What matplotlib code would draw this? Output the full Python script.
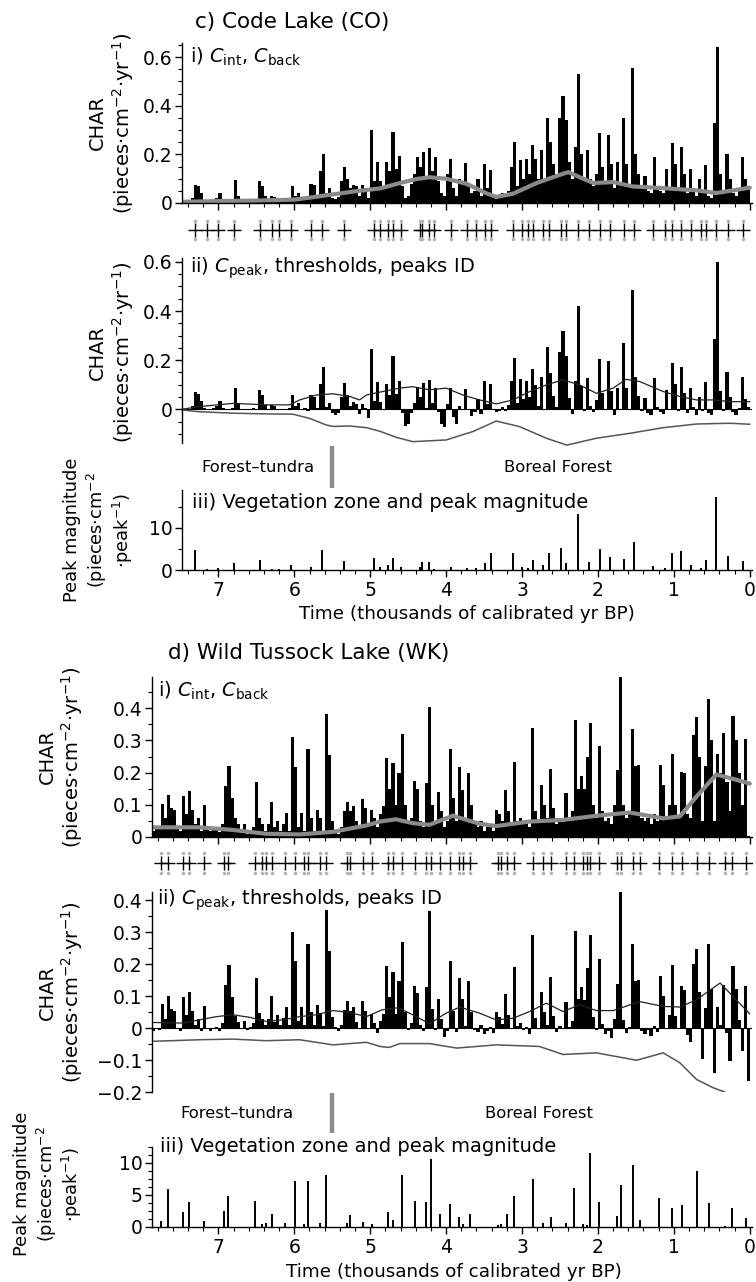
import numpy as np
import matplotlib
matplotlib.use("Agg")
import matplotlib.pyplot as plt
from matplotlib.ticker import MultipleLocator, FuncFormatter

plt.rcParams['font.family'] = 'DejaVu Sans'
plt.rcParams['font.size'] = 13.5
plt.rcParams['mathtext.fontset'] = 'dejavusans'
plt.rcParams['axes.linewidth'] = 1.0

W, H = 756, 1282

# ---------------- Code Lake (CO) ----------------
co_start, co_step = 7.46, 0.04   # bin centres, kyr BP, oldest first
co_cint = [0.004, 0.005, 0.006, 0.02, 0.075,
           0.07, 0.04, 0.012, 0.008, 0.01,
           0.012, 0.02, 0.04, 0.015, 0.008,
           0.01, 0.012, 0.095, 0.03, 0.01,
           0.008, 0.012, 0.01, 0.015, 0.012,
           0.09, 0.07, 0.03, 0.01, 0.03,
           0.025, 0.012, 0.01, 0.008, 0.015,
           0.02, 0.07, 0.03, 0.04, 0.02,
           0.025, 0.015, 0.08, 0.075, 0.03,
           0.13, 0.2, 0.04, 0.06, 0.02,
           0.015, 0.025, 0.09, 0.15, 0.1,
           0.06, 0.075, 0.07, 0.03, 0.075,
           0.06, 0.02, 0.3, 0.09, 0.17,
           0.09, 0.06, 0.17, 0.13, 0.29,
           0.14, 0.195, 0.07, 0.02, 0.03,
           0.08, 0.12, 0.19, 0.15, 0.21,
           0.11, 0.226, 0.13, 0.19, 0.09,
           0.04, 0.03, 0.12, 0.18, 0.06,
           0.03, 0.1, 0.08, 0.163, 0.07,
           0.04, 0.05, 0.1, 0.03, 0.16,
           0.06, 0.137, 0.03, 0.015, 0.02,
           0.04, 0.025, 0.05, 0.15, 0.25,
           0.07, 0.177, 0.1, 0.18, 0.12,
           0.24, 0.18, 0.1, 0.22, 0.09,
           0.35, 0.25, 0.16, 0.12, 0.35,
           0.44, 0.34, 0.17, 0.1, 0.23,
           0.53, 0.2, 0.09, 0.22, 0.1,
           0.07, 0.12, 0.287, 0.15, 0.08,
           0.28, 0.16, 0.06, 0.17, 0.08,
           0.348, 0.16, 0.07, 0.555, 0.2,
           0.12, 0.06, 0.11, 0.05, 0.04,
           0.19, 0.07, 0.05, 0.04, 0.14,
           0.06, 0.246, 0.16, 0.05, 0.23,
           0.12, 0.04, 0.14, 0.06, 0.03,
           0.1, 0.04, 0.158, 0.03, 0.02,
           0.33, 0.64, 0.12, 0.04, 0.2,
           0.1, 0.04, 0.03, 0.06, 0.19,
           0.1, 0.07]

co_back_t = [7.48, 7.0, 6.5, 6.0, 5.8, 5.5, 5.2, 4.87, 4.61, 4.4, 4.22, 4.0, 3.73,
             3.47, 3.34, 3.12, 2.81, 2.5, 2.39, 2.24, 2.06, 1.8, 1.54, 1.14, 0.7,
             0.44, 0.22, 0.0]
co_back_v = [0.005, 0.008, 0.01, 0.014, 0.022, 0.035, 0.048, 0.06, 0.082, 0.098,
             0.106, 0.1, 0.079, 0.04, 0.025, 0.038, 0.082, 0.116, 0.127, 0.106,
             0.082, 0.086, 0.068, 0.061, 0.052, 0.041, 0.052, 0.063]

co_thr_hi_t = [7.48, 7.25, 6.81, 6.37, 6.06, 5.93, 5.71, 5.49, 5.27, 5.14, 5.05, 4.87,
               4.61, 4.44, 4.22, 4.0, 3.78, 3.56, 3.34, 3.12, 2.9, 2.68, 2.46, 2.24,
               2.02, 1.8, 1.63, 1.45, 1.14, 0.92, 0.7, 0.48, 0.26, 0.0]
co_thr_hi_v = [0.0, 0.011, 0.024, 0.018, 0.018, 0.038, 0.058, 0.063, 0.052, 0.038,
               0.058, 0.07, 0.086, 0.092, 0.079, 0.086, 0.058, 0.038, 0.022, 0.038,
               0.072, 0.099, 0.12, 0.099, 0.065, 0.086, 0.122, 0.113, 0.072, 0.052,
               0.038, 0.038, 0.031, 0.031]
co_thr_lo_t = [7.48, 7.25, 6.81, 6.37, 6.02, 5.8, 5.58, 5.49, 5.27, 5.05, 4.87, 4.65,
               4.44, 4.0, 3.65, 3.34, 3.03, 2.68, 2.41, 2.02, 1.58, 1.14, 0.7, 0.26, 0.0]
co_thr_lo_v = [-0.003, -0.01, -0.016, -0.019, -0.02, -0.037, -0.064, -0.07, -0.068,
               -0.075, -0.09, -0.115, -0.132, -0.125, -0.091, -0.048, -0.071, -0.118,
               -0.146, -0.118, -0.098, -0.075, -0.06, -0.057, -0.061]

co_peak_t = [7.31, 7.15, 7.0, 6.79, 6.45, 6.3, 6.2, 6.04, 5.78, 5.64, 5.35, 4.95, 4.87,
             4.76, 4.7, 4.6, 4.35, 4.32, 4.23, 4.16, 3.93, 3.73, 3.6, 3.49, 3.41, 3.12,
             3.0, 2.92, 2.86, 2.73, 2.64, 2.49, 2.42, 2.26, 2.12, 1.97, 1.84, 1.65,
             1.52, 1.27, 1.12, 1.03, 0.9, 0.78, 0.64, 0.57, 0.44, 0.29, 0.09]
co_peak_mag = [4.8, 0.3, 0.5, 1.7, 2.4, 0.3, 0.3, 1.2, 0.7, 4.8, 2.1, 2.8, 0.8,
               1.3, 2.8, 0.8, 0.8, 2.0, 1.8, 0.3, 0.8, 0.4, 0.5, 1.7, 4.1, 4.1,
               0.8, 0.5, 2.4, 1.1, 4.0, 5.3, 1.7, 13.3, 2.0, 5.0, 3.2, 2.5,
               6.6, 0.9, 0.4, 4.0, 4.6, 1.1, 0.5, 2.4, 17.4, 3.3, 2.2]

# ---------------- Wild Tussock Lake (WK) ----------------
wk_start, wk_step = 7.86, 0.04
wk_cint = [0.02, 0.03, 0.025, 0.104, 0.06,
           0.13, 0.09, 0.085, 0.03, 0.02,
           0.128, 0.07, 0.142, 0.085, 0.04,
           0.06, 0.02, 0.098, 0.03, 0.02,
           0.025, 0.03, 0.015, 0.04, 0.157,
           0.22, 0.12, 0.06, 0.04, 0.02,
           0.04, 0.01, 0.02, 0.03, 0.17,
           0.06, 0.04, 0.02, 0.04, 0.11,
           0.03, 0.05, 0.02, 0.04, 0.076,
           0.02, 0.31, 0.217, 0.03, 0.075,
           0.02, 0.272, 0.06, 0.02, 0.085,
           0.06, 0.02, 0.383, 0.255, 0.05,
           0.02, 0.01, 0.03, 0.08, 0.11,
           0.08, 0.095, 0.05, 0.03, 0.118,
           0.09, 0.04, 0.085, 0.06, 0.03,
           0.07, 0.095, 0.246, 0.15, 0.23,
           0.1, 0.2, 0.319, 0.1, 0.04,
           0.06, 0.173, 0.15, 0.05, 0.03,
           0.168, 0.404, 0.1, 0.04, 0.139,
           0.08, 0.03, 0.05, 0.274, 0.12,
           0.05, 0.217, 0.147, 0.06, 0.199,
           0.1, 0.04, 0.03, 0.05, 0.02,
           0.03, 0.04, 0.02, 0.084, 0.07,
           0.05, 0.145, 0.08, 0.04, 0.233,
           0.05, 0.06, 0.04, 0.05, 0.03,
           0.34, 0.08, 0.05, 0.163, 0.1,
           0.06, 0.211, 0.09, 0.04, 0.06,
           0.05, 0.136, 0.06, 0.08, 0.362,
           0.15, 0.189, 0.15, 0.25, 0.355,
           0.1, 0.06, 0.282, 0.08, 0.05,
           0.06, 0.04, 0.1, 0.209, 0.499,
           0.1, 0.06, 0.08, 0.336, 0.22,
           0.223, 0.06, 0.05, 0.06, 0.04,
           0.07, 0.05, 0.223, 0.16, 0.06,
           0.1, 0.258, 0.1, 0.06, 0.201,
           0.2, 0.07, 0.06, 0.316, 0.374,
           0.25, 0.05, 0.22, 0.43, 0.3,
           0.05, 0.258, 0.2, 0.322, 0.17,
           0.08, 0.376, 0.3, 0.2, 0.1,
           0.303, 0.003]

wk_back_t = [7.88, 7.25, 6.81, 6.37, 5.93, 5.49, 5.05, 4.87, 4.66, 4.44, 4.22, 3.91,
             3.56, 3.34, 2.9, 2.46, 2.02, 1.58, 1.14, 0.92, 0.7, 0.44, 0.26, 0.0]
wk_back_v = [0.03, 0.03, 0.022, 0.01, 0.008, 0.016, 0.036, 0.048, 0.055, 0.043,
             0.038, 0.066, 0.041, 0.034, 0.048, 0.053, 0.066, 0.076, 0.058, 0.064,
             0.126, 0.194, 0.183, 0.166]

wk_thr_hi_t = [7.88, 7.46, 7.25, 7.03, 6.81, 6.59, 6.37, 6.15, 5.93, 5.71, 5.49, 5.27,
               5.05, 4.85, 4.63, 4.44, 4.22, 4.0, 3.82, 3.56, 3.34, 3.12, 2.9, 2.68,
               2.46, 2.24, 2.02, 1.8, 1.45, 1.14, 0.92, 0.7, 0.39, 0.22, 0.0]
wk_thr_hi_v = [0.018, 0.016, 0.026, 0.036, 0.042, 0.034, 0.021, 0.026, 0.036, 0.042,
               0.055, 0.049, 0.036, 0.057, 0.064, 0.042, 0.014, 0.047, 0.066, 0.047,
               0.026, 0.031, 0.052, 0.078, 0.052, 0.073, 0.055, 0.055, 0.083, 0.068,
               0.066, 0.089, 0.141, 0.099, 0.045]
wk_thr_lo_t = [7.88, 7.25, 6.81, 6.37, 5.93, 5.49, 5.05, 4.87, 4.75, 4.61, 4.22, 3.86,
               3.34, 2.77, 2.46, 2.02, 1.49, 1.14, 0.92, 0.7, 0.48, 0.33, 0.2, 0.0]
wk_thr_lo_v = [-0.041, -0.036, -0.034, -0.039, -0.036, -0.052, -0.044, -0.057, -0.06,
               -0.048, -0.048, -0.062, -0.052, -0.057, -0.082, -0.077, -0.1, -0.077,
               -0.108, -0.16, -0.186, -0.199, -0.22, -0.25]

wk_peak_t = [7.75, 7.67, 7.47, 7.39, 7.19, 6.92, 6.87, 6.52, 6.42, 6.37, 6.3, 6.12,
             5.99, 5.87, 5.82, 5.66, 5.58, 5.3, 5.26, 5.1, 4.97, 4.76, 4.7, 4.58,
             4.41, 4.26, 4.2, 4.08, 3.95, 3.83, 3.78, 3.68, 3.32, 3.28, 3.2, 3.1,
             2.86, 2.72, 2.62, 2.42, 2.32, 2.2, 2.15, 2.11, 1.98, 1.75, 1.7, 1.54,
             1.44, 1.19, 1.02, 0.89, 0.69, 0.53, 0.32, 0.23, 0.05]
wk_peak_mag = [1.0, 6.0, 2.3, 3.9, 0.9, 2.5, 4.9, 4.0, 0.4, 0.6, 2.1, 0.7,
               7.2, 0.5, 7.2, 0.6, 8.2, 0.7, 1.9, 0.8, 0.4, 2.4, 1.1, 8.2,
               4.1, 3.9, 10.7, 2.0, 3.6, 1.5, 0.5, 2.1, 0.3, 0.5, 2.0, 4.8,
               7.5, 0.7, 1.6, 0.6, 6.1, 0.4, 0.3, 11.5, 3.9, 1.7, 6.5, 9.7,
               1.1, 4.6, 2.9, 3.4, 8.8, 3.7, 0.1, 3.0, 1.4]

zone_boundary = 5.51   # forest-tundra / boreal forest transition, kyr BP

BACK_GRAY = '#8a8a8a'
DOT_GRAY = '#b4b4b4'

fig = plt.figure(figsize=(W / 100, H / 100), dpi=100)


def add_ax(x0, y0, x1, y1):
    # axes placed in pixel units, measured from the top-left corner
    return fig.add_axes([x0 / W, 1 - y1 / H, (x1 - x0) / W, (y1 - y0) / H])


def ftext(x, y, s, **kw):
    fig.text(x / W, 1 - y / H, s, **kw)


def ylab(x, y, s, size=14):
    ftext(x, y, s, rotation=90, ha='center', va='center', fontsize=size)


def tick_fmt(v, pos):
    if abs(v) < 1e-9:
        return '0'
    return ('%g' % v).replace('-', '\u2212')


def style(ax, xlim, bottom=True):
    ax.set_xlim(*xlim)
    for side in ['top', 'right']:
        ax.spines[side].set_visible(False)
    ax.spines['bottom'].set_visible(bottom)
    ax.xaxis.set_major_locator(MultipleLocator(1))
    ax.xaxis.set_minor_locator(MultipleLocator(0.2))
    ax.tick_params(which='major', direction='out', length=5, width=1, pad=2)
    ax.tick_params(which='minor', direction='out', length=3, width=0.8)
    ax.tick_params(axis='x', labelbottom=False, bottom=bottom)
    ax.tick_params(axis='x', which='minor', bottom=bottom)
    ax.yaxis.set_major_formatter(FuncFormatter(tick_fmt))


def draw_site(cfg):
    t = cfg['start'] - cfg['step'] * np.arange(len(cfg['cint']))
    cint = np.array(cfg['cint'])
    back_t = np.array(cfg['back_t'])
    back_v = np.array(cfg['back_v'])
    cpeak = cint - np.interp(t, back_t[::-1], back_v[::-1])
    xl = cfg['xlim']
    x0, x1 = cfg['x0'], cfg['x1']
    bw = cfg['step'] * 1.03

    # i) interpolated CHAR with background
    a1 = add_ax(x0, cfg['y_i'][0], x1, cfg['y_i'][1])
    a1.bar(t, cint, width=bw, color='black', linewidth=0)
    a1.plot(back_t, back_v, color=BACK_GRAY, lw=3, solid_capstyle='round')
    style(a1, xl)
    a1.set_ylim(*cfg['ylim_i'])
    a1.yaxis.set_major_locator(MultipleLocator(cfg['ymaj_i']))
    a1.yaxis.set_minor_locator(MultipleLocator(0.05))

    # row of identified peaks
    am = add_ax(x0, cfg['y_m'][0], x1, cfg['y_m'][1])
    pt = np.array(cfg['peak_t'])
    am.plot(pt, np.zeros_like(pt), '+', color='black', ms=9.5, mew=1.0)
    am.plot(pt, np.full_like(pt, 0.58), 'o', color=DOT_GRAY, ms=2.6, mew=0)
    am.plot(pt, np.full_like(pt, -0.58), 'o', color=DOT_GRAY, ms=2.6, mew=0)
    am.set_xlim(*xl)
    am.set_ylim(-1, 1)
    am.axis('off')

    # ii) peak component with thresholds
    a2 = add_ax(x0, cfg['y_ii'][0], x1, cfg['y_ii'][1])
    a2.bar(t, cpeak, width=bw, color='black', linewidth=0)
    a2.axhline(0, color='black', lw=0.8)
    a2.plot(cfg['hi_t'], cfg['hi_v'], color='#222222', lw=0.9)
    a2.plot(cfg['lo_t'], cfg['lo_v'], color='#555555', lw=1.1)
    style(a2, xl, bottom=False)
    a2.set_ylim(*cfg['ylim_ii'])
    a2.spines['left'].set_bounds(*cfg['spine_ii'])
    a2.yaxis.set_major_locator(MultipleLocator(cfg['ymaj_ii']))
    a2.yaxis.set_minor_locator(MultipleLocator(0.05))

    # vegetation zones
    av = add_ax(x0, cfg['y_v'][0], x1, cfg['y_v'][1])
    av.set_xlim(*xl)
    av.set_ylim(0, 1)
    av.axvline(zone_boundary, color='#8c8c8c', lw=3.2)
    av.text(cfg['ft_x'], 0.5, 'Forest\u2013tundra', ha='center', va='center', fontsize=11.8)
    av.text(cfg['bf_x'], 0.5, 'Boreal Forest', ha='center', va='center', fontsize=11.8)
    av.axis('off')

    # iii) peak magnitude
    a3 = add_ax(x0, cfg['y_iii'][0], x1, cfg['y_iii'][1])
    a3.vlines(cfg['peak_t'], 0, cfg['peak_mag'], color='black', lw=1.4)
    style(a3, xl)
    a3.tick_params(axis='x', labelbottom=True, pad=3)
    a3.set_ylim(*cfg['ylim_iii'])
    a3.yaxis.set_major_locator(MultipleLocator(cfg['ymaj_iii']))
    a3.yaxis.set_minor_locator(MultipleLocator(cfg['ymin_iii']))
    a3.xaxis.set_major_formatter(FuncFormatter(tick_fmt))


co = dict(cint=co_cint, start=co_start, step=co_step,
          back_t=co_back_t, back_v=co_back_v,
          hi_t=co_thr_hi_t, hi_v=co_thr_hi_v, lo_t=co_thr_lo_t, lo_v=co_thr_lo_v,
          peak_t=co_peak_t, peak_mag=co_peak_mag,
          xlim=(7.48, -0.03), x0=182, x1=752,
          y_i=(43, 203), ylim_i=(0, 0.658), ymaj_i=0.2,
          y_m=(214, 246),
          y_ii=(258, 445.6), ylim_ii=(-0.148, 0.616), spine_ii=(-0.137, 0.616), ymaj_ii=0.2,
          y_v=(446, 488), ft_x=6.48, bf_x=2.53,
          y_iii=(490, 570), ylim_iii=(0, 19), ymaj_iii=10, ymin_iii=5)

wk = dict(cint=wk_cint, start=wk_start, step=wk_step,
          back_t=wk_back_t, back_v=wk_back_v,
          hi_t=wk_thr_hi_t, hi_v=wk_thr_hi_v, lo_t=wk_thr_lo_t, lo_v=wk_thr_lo_v,
          peak_t=wk_peak_t, peak_mag=wk_peak_mag,
          xlim=(7.875, -0.03), x0=152, x1=752,
          y_i=(677, 837), ylim_i=(0, 0.497), ymaj_i=0.1,
          y_m=(845, 881),
          y_ii=(892, 1092.3), ylim_ii=(-0.2, 0.425), spine_ii=(-0.2, 0.425), ymaj_ii=0.1,
          y_v=(1093, 1133), ft_x=6.75, bf_x=2.77,
          y_iii=(1147, 1227), ylim_iii=(0, 12.5), ymaj_iii=5, ymin_iii=1.25)

draw_site(co)
draw_site(wk)

# titles, panel labels and axis labels
ftext(195, 28, 'c) Code Lake (CO)', fontsize=15.5, va='baseline')
ftext(168, 659, 'd) Wild Tussock Lake (WK)', fontsize=15.5, va='baseline')

lab_i = r'i) $C_{\mathrm{int}}$, $C_{\mathrm{back}}$'
lab_ii = r'ii) $C_{\mathrm{peak}}$, thresholds, peaks ID'
lab_iii = 'iii) Vegetation zone and peak magnitude'
ftext(190, 63, lab_i, fontsize=14, va='baseline')
ftext(190, 273, lab_ii, fontsize=14, va='baseline')
ftext(192, 508, lab_iii, fontsize=14, va='baseline')
ftext(158, 697, lab_i, fontsize=14, va='baseline')
ftext(157, 905, lab_ii, fontsize=14, va='baseline')
ftext(160, 1152, lab_iii, fontsize=14, va='baseline')

char_units = '(pieces\u00b7cm$^{-2}$\u00b7yr$^{-1}$)'
ylab(97, 123, 'CHAR')
ylab(123, 123, char_units)
ylab(97, 352, 'CHAR')
ylab(123, 352, char_units)
ylab(72, 530, 'Peak magnitude', 12.8)
ylab(97, 530, '(pieces\u00b7cm$^{-2}$', 12.8)
ylab(123, 530, '\u00b7peak$^{-1}$)', 12.8)

ylab(47, 757, 'CHAR')
ylab(72, 757, char_units)
ylab(47, 992, 'CHAR')
ylab(72, 992, char_units)
ylab(22, 1184, 'Peak magnitude', 12.8)
ylab(47, 1184, '(pieces\u00b7cm$^{-2}$', 12.8)
ylab(72, 1184, '\u00b7peak$^{-1}$)', 12.8)

ftext(467, 619, 'Time (thousands of calibrated yr BP)', ha='center', va='baseline', fontsize=13.2)
ftext(454, 1277, 'Time (thousands of calibrated yr BP)', ha='center', va='baseline', fontsize=13.2)

fig.savefig('out.png', dpi=100)
